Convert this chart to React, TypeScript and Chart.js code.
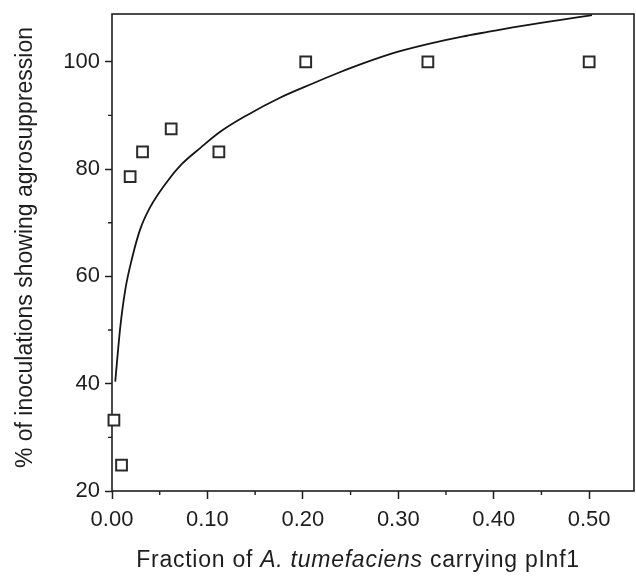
import { useEffect, useRef } from "react";
import { Chart, registerables } from "chart.js";

Chart.register(...registerables);

// Axis ticks
const xTicks = [0, 0.1, 0.2, 0.3, 0.4, 0.5];
const xMinorTicks = [0.05, 0.15, 0.25, 0.35, 0.45];
const yTicks = [20, 40, 60, 80, 100];
const yMinorTicks = [30, 50, 70, 90];

// Observed values (open squares)
const obsX = [0.002, 0.01, 0.019, 0.032, 0.062, 0.112, 0.203, 0.331, 0.5];
const obsY = [33.2, 24.8, 78.6, 83.2, 87.5, 83.2, 100, 100, 100];

// Fitted curve
const fitX = [0.0034, 0.0087, 0.0139, 0.0209, 0.0296, 0.04, 0.0575, 0.073, 0.093, 0.113, 0.141, 0.176, 0.211, 0.238, 0.263, 0.298, 0.333, 0.367, 0.395, 0.42, 0.4545, 0.489, 0.503];
const fitY = [40.4, 50.6, 57.5, 63.3, 68.8, 72.9, 77.6, 80.9, 84.0, 86.9, 90.0, 93.3, 96.0, 98.0, 99.7, 101.8, 103.4, 104.7, 105.6, 106.4, 107.4, 108.3, 108.7];

const yTitle = "% of inoculations showing agrosuppression";
const xTitleParts = [
  { text: "Fraction of ", italic: false },
  { text: "A. tumefaciens", italic: true },
  { text: " carrying pInf1", italic: false },
];

const FONT = "'Liberation Sans', Arial, Helvetica, sans-serif";
const INK = "#1e1e1e";

const framePlugin = {
  id: "frame",
  beforeDatasetsDraw(chart: any) {
    const { ctx, chartArea } = chart;
    const xs = chart.scales.x;
    const ys = chart.scales.y;
    ctx.save();
    ctx.strokeStyle = INK;
    ctx.lineWidth = 1.6;
    ctx.strokeRect(chartArea.left, chartArea.top, chartArea.right - chartArea.left, chartArea.bottom - chartArea.top);
    ctx.lineWidth = 1.4;
    ctx.beginPath();
    for (const v of xMinorTicks) {
      const px = xs.getPixelForValue(v);
      ctx.moveTo(px, chartArea.bottom);
      ctx.lineTo(px, chartArea.bottom + 4);
    }
    for (const v of yMinorTicks) {
      const py = ys.getPixelForValue(v);
      ctx.moveTo(chartArea.left, py);
      ctx.lineTo(chartArea.left - 4, py);
    }
    ctx.stroke();
    ctx.restore();
  },
  afterDraw(chart: any) {
    const { ctx, chartArea } = chart;
    ctx.save();
    ctx.fillStyle = INK;
    // Y title
    ctx.font = `23px ${FONT}`;
    ctx.textAlign = "center";
    ctx.textBaseline = "alphabetic";
    ctx.translate(32, (chartArea.top + chartArea.bottom) / 2 - 5);
    ctx.rotate(-Math.PI / 2);
    ctx.fillText(yTitle, 0, 0);
    ctx.restore();

    // X title with italic part
    ctx.save();
    ctx.fillStyle = INK;
    ctx.textBaseline = "alphabetic";
    ctx.textAlign = "left";
    (ctx as any).letterSpacing = "0.75px";
    let total = 0;
    const widths: number[] = [];
    for (const p of xTitleParts) {
      ctx.font = `${p.italic ? "italic " : ""}23px ${FONT}`;
      const w = ctx.measureText(p.text).width;
      widths.push(w);
      total += w;
    }
    let x = (chartArea.left + chartArea.right) / 2 - 15 - total / 2;
    xTitleParts.forEach((p, i) => {
      ctx.font = `${p.italic ? "italic " : ""}23px ${FONT}`;
      ctx.fillText(p.text, x, 567);
      x += widths[i];
    });
    (ctx as any).letterSpacing = "0px";
    ctx.restore();
  },
};

export default function App() {
  const ref = useRef<HTMLCanvasElement | null>(null);

  useEffect(() => {
    document.body.style.margin = "0";
    if (!ref.current) return;
    const chart = new Chart(ref.current, {
      type: "scatter",
      data: {
        datasets: [
          {
            label: "fit",
            data: fitX.map((x, i) => ({ x, y: fitY[i] })),
            showLine: true,
            borderColor: "#151515",
            borderWidth: 1.8,
            pointRadius: 0,
            cubicInterpolationMode: "monotone",
            order: 2,
          },
          {
            label: "observed",
            data: obsX.map((x, i) => ({ x, y: obsY[i] })),
            pointStyle: "rect",
            pointRadius: 7.6,
            pointBorderWidth: 2,
            borderColor: "#2a2a2a",
            backgroundColor: "#ffffff",
            pointBackgroundColor: "#ffffff",
            pointBorderColor: "#2a2a2a",
            order: 1,
            clip: false,
          } as any,
        ],
      },
      options: {
        animation: false,
        responsive: false,
        devicePixelRatio: 1,
        layout: { autoPadding: false, padding: { top: 14, right: 2, left: 0, bottom: 0 } },
        plugins: {
          legend: { display: false },
          tooltip: { enabled: false },
        },
        scales: {
          x: {
            type: "linear",
            min: 0,
            max: 0.547,
            afterBuildTicks: (s: any) => {
              s.ticks = xTicks.map((v) => ({ value: v }));
            },
            afterFit: (s: any) => {
              s.height = 89;
              s.paddingLeft = 0;
              s.paddingRight = 0;
            },
            grid: {
              display: true,
              drawOnChartArea: false,
              drawTicks: true,
              tickLength: 8,
              tickColor: INK,
              tickWidth: 1.5,
            },
            border: { display: false },
            ticks: {
              color: INK,
              font: { family: FONT, size: 22 },
              padding: 8,
              maxRotation: 0,
              callback: (v: any) => Number(v).toFixed(2),
            },
          },
          y: {
            type: "linear",
            min: 20,
            max: 108.9,
            afterBuildTicks: (s: any) => {
              s.ticks = yTicks.map((v) => ({ value: v }));
            },
            afterFit: (s: any) => {
              s.width = 112;
              s.paddingTop = 0;
              s.paddingBottom = 0;
            },
            grid: {
              display: true,
              drawOnChartArea: false,
              drawTicks: true,
              tickLength: 7,
              tickColor: INK,
              tickWidth: 1.5,
            },
            border: { display: false },
            ticks: {
              color: INK,
              font: { family: FONT, size: 22 },
              padding: 5,
              callback: (v: any) => String(v),
            },
          },
        },
      },
      plugins: [framePlugin],
    });
    return () => chart.destroy();
  }, []);

  return <canvas ref={ref} width={636} height={580} style={{ display: "block" }} />;
}
